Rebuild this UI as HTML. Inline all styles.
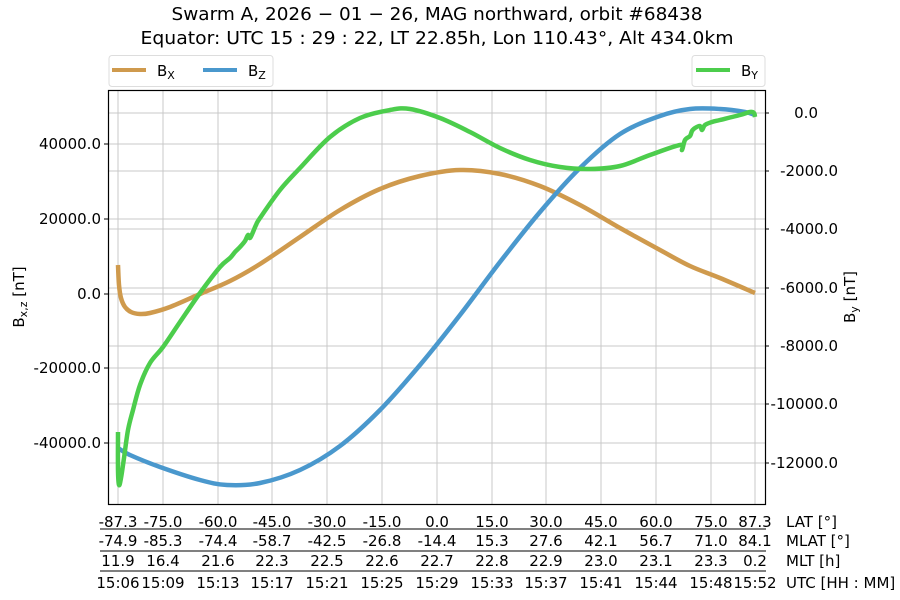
<!DOCTYPE html>
<html><head><meta charset="utf-8"><style>
body{margin:0;background:#fff}
svg{display:block;font-family:"DejaVu Sans","Liberation Sans",sans-serif}
</style></head><body>
<svg id="s" width="900" height="600" xmlns="http://www.w3.org/2000/svg">
<rect width="900" height="600" fill="#fff"/>
<text x="437" y="20" font-size="18" text-anchor="middle" textLength="531" lengthAdjust="spacingAndGlyphs">Swarm A,  2026 − 01 − 26,  MAG northward,  orbit #68438</text>
<text x="437" y="44" font-size="18" text-anchor="middle" textLength="593" lengthAdjust="spacingAndGlyphs">Equator:  UTC 15 : 29 : 22,  LT 22.85h,  Lon 110.43°,  Alt 434.0km</text>
<g stroke="#c8c8c8" stroke-width="1">
<line x1="118" y1="90" x2="118" y2="504"/><line x1="163" y1="90" x2="163" y2="504"/><line x1="218" y1="90" x2="218" y2="504"/><line x1="272" y1="90" x2="272" y2="504"/><line x1="327" y1="90" x2="327" y2="504"/><line x1="382" y1="90" x2="382" y2="504"/><line x1="437" y1="90" x2="437" y2="504"/><line x1="492" y1="90" x2="492" y2="504"/><line x1="546" y1="90" x2="546" y2="504"/><line x1="601" y1="90" x2="601" y2="504"/><line x1="656" y1="90" x2="656" y2="504"/><line x1="711" y1="90" x2="711" y2="504"/><line x1="755" y1="90" x2="755" y2="504"/>
<line x1="108" y1="144" x2="765" y2="144"/><line x1="108" y1="219" x2="765" y2="219"/><line x1="108" y1="294" x2="765" y2="294"/><line x1="108" y1="368" x2="765" y2="368"/><line x1="108" y1="443" x2="765" y2="443"/>
<line x1="108" y1="113" x2="765" y2="113"/><line x1="108" y1="171" x2="765" y2="171"/><line x1="108" y1="229" x2="765" y2="229"/><line x1="108" y1="288" x2="765" y2="288"/><line x1="108" y1="346" x2="765" y2="346"/><line x1="108" y1="404" x2="765" y2="404"/><line x1="108" y1="463" x2="765" y2="463"/>
</g>
<g fill="none" stroke-width="4.5" stroke-linejoin="round" stroke-linecap="butt">
<path class="sm" stroke="#cf9a4d" data-p="118,265 119,285 121,298 125,307 131,312 140,314 150,313 170,307 200,294 230,281 260,264 300,237 340,210 380,189 420,176 460,170 500,174 540,186 580,205 620,228 660,250 690,266 720,278 755,293"/>
<path class="sm" stroke="#4a98cd" data-p="118,448 130,455 160,467 200,480 227,485 260,483 300,470 340,446 380,410 420,365 460,315 500,262 540,212 580,168 620,134 660,116 690,109 720,109 745,112 755,115"/>
<path class="sm" stroke="#4ccd4c" data-p="118,432 118,470 119,485 121,478 124,458 128,430 133,410 140,385 150,363 163,347 180,322 200,293 220,267 230,258 235,252 240,247 245,241 248,235 250,238 253,232 256,225 260,218 280,190 300,168 330,137 360,118 390,110 410,109 440,118 470,132 500,148 530,160 560,167 590,169 620,166 650,155 680,145 682,150 685,140 690,136 692,131 695,128 700,126 702,130 705,125 712,122 720,120 740,115 750,112 754,113 755,117"/>
</g>
<rect x="108.5" y="90.5" width="657" height="414" fill="none" stroke="#000" stroke-width="1.2"/>
<g stroke="#000"><line x1="104" y1="144" x2="108" y2="144"/><line x1="104" y1="219" x2="108" y2="219"/><line x1="104" y1="294" x2="108" y2="294"/><line x1="104" y1="368" x2="108" y2="368"/><line x1="104" y1="443" x2="108" y2="443"/>
<line x1="765" y1="113" x2="769" y2="113"/><line x1="765" y1="171" x2="769" y2="171"/><line x1="765" y1="229" x2="769" y2="229"/><line x1="765" y1="288" x2="769" y2="288"/><line x1="765" y1="346" x2="769" y2="346"/><line x1="765" y1="404" x2="769" y2="404"/><line x1="765" y1="463" x2="769" y2="463"/></g>
<g font-size="15" text-anchor="end">
<text x="101" y="149">40000.0</text><text x="101" y="224">20000.0</text><text x="101" y="299">0.0</text><text x="101" y="373">-20000.0</text><text x="101" y="448">-40000.0</text>
<text x="818" y="118">0.0</text><text x="838" y="176">-2000.0</text><text x="838" y="234">-4000.0</text><text x="838" y="293">-6000.0</text><text x="838" y="351">-8000.0</text><text x="838" y="409">-10000.0</text><text x="838" y="468">-12000.0</text>
</g>
<text transform="translate(24,297) rotate(-90)" font-size="15" text-anchor="middle">B<tspan font-size="11" dy="3">x,z</tspan><tspan dy="-3"> [nT]</tspan></text>
<text transform="translate(855,297) rotate(-90)" font-size="15" text-anchor="middle">B<tspan font-size="11" dy="3">y</tspan><tspan dy="-3"> [nT]</tspan></text>
<rect x="109" y="55.5" width="164" height="31" rx="3" fill="#fff" stroke="#ddd"/>
<line x1="112" y1="70" x2="146" y2="70" stroke="#cf9a4d" stroke-width="4"/>
<text x="157" y="76" font-size="15">B<tspan font-size="11" dy="3">X</tspan></text>
<line x1="203" y1="70" x2="237" y2="70" stroke="#4a98cd" stroke-width="4"/>
<text x="248" y="76" font-size="15">B<tspan font-size="11" dy="3">Z</tspan></text>
<rect x="692" y="55.5" width="73" height="31" rx="3" fill="#fff" stroke="#ddd"/>
<line x1="696" y1="70" x2="730" y2="70" stroke="#4ccd4c" stroke-width="4"/>
<text x="741" y="76" font-size="15">B<tspan font-size="11" dy="3">Y</tspan></text>
<g stroke="#000" stroke-width="1"><line x1="100" y1="529" x2="766" y2="529"/><line x1="100" y1="551" x2="766" y2="551"/><line x1="100" y1="571" x2="766" y2="571"/></g>
<g font-size="15" text-anchor="middle">
<text y="527"><tspan x="118">-87.3</tspan><tspan x="163">-75.0</tspan><tspan x="218">-60.0</tspan><tspan x="272">-45.0</tspan><tspan x="327">-30.0</tspan><tspan x="382">-15.0</tspan><tspan x="437">0.0</tspan><tspan x="492">15.0</tspan><tspan x="546">30.0</tspan><tspan x="601">45.0</tspan><tspan x="656">60.0</tspan><tspan x="711">75.0</tspan><tspan x="755">87.3</tspan></text>
<text y="546"><tspan x="118">-74.9</tspan><tspan x="163">-85.3</tspan><tspan x="218">-74.4</tspan><tspan x="272">-58.7</tspan><tspan x="327">-42.5</tspan><tspan x="382">-26.8</tspan><tspan x="437">-14.4</tspan><tspan x="492">15.3</tspan><tspan x="546">27.6</tspan><tspan x="601">42.1</tspan><tspan x="656">56.7</tspan><tspan x="711">71.0</tspan><tspan x="755">84.1</tspan></text>
<text y="566"><tspan x="118">11.9</tspan><tspan x="163">16.4</tspan><tspan x="218">21.6</tspan><tspan x="272">22.3</tspan><tspan x="327">22.5</tspan><tspan x="382">22.6</tspan><tspan x="437">22.7</tspan><tspan x="492">22.8</tspan><tspan x="546">22.9</tspan><tspan x="601">23.0</tspan><tspan x="656">23.1</tspan><tspan x="711">23.3</tspan><tspan x="755">0.2</tspan></text>
<text y="588"><tspan x="118">15:06</tspan><tspan x="163">15:09</tspan><tspan x="218">15:13</tspan><tspan x="272">15:17</tspan><tspan x="327">15:21</tspan><tspan x="382">15:25</tspan><tspan x="437">15:29</tspan><tspan x="492">15:33</tspan><tspan x="546">15:37</tspan><tspan x="601">15:41</tspan><tspan x="656">15:44</tspan><tspan x="711">15:48</tspan><tspan x="755">15:52</tspan></text>
</g>
<g font-size="15">
<text x="786" y="527">LAT [°]</text><text x="786" y="546">MLAT [°]</text><text x="786" y="566">MLT [h]</text><text x="786" y="588">UTC [HH : MM]</text>
</g>
</svg>
<script>
document.querySelectorAll('path.sm').forEach(function(el){
  var p=el.getAttribute('data-p').trim().split(/\s+/).map(function(s){return s.split(',').map(Number);});
  var d='M'+p[0][0]+','+p[0][1];
  for(var i=0;i<p.length-1;i++){
    var p0=p[i-1]||p[i],p1=p[i],p2=p[i+1],p3=p[i+2]||p2,t=1/6;
    d+=' C'+(p1[0]+(p2[0]-p0[0])*t)+','+(p1[1]+(p2[1]-p0[1])*t)+' '+(p2[0]-(p3[0]-p1[0])*t)+','+(p2[1]-(p3[1]-p1[1])*t)+' '+p2[0]+','+p2[1];
  }
  el.setAttribute('d',d);
});
</script>
</body></html>
